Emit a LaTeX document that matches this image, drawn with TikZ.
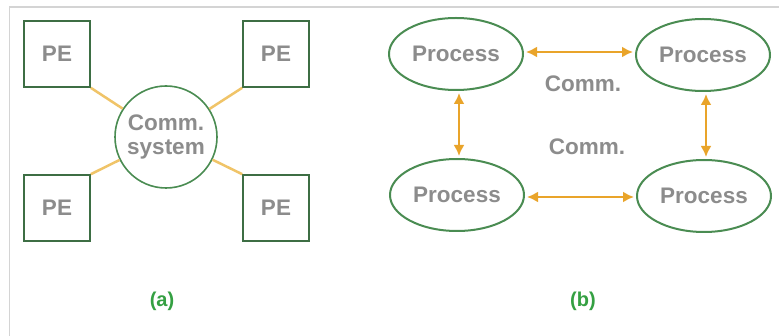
\documentclass[tikz,border=0pt]{standalone}
\usepackage{fontspec}
\setmainfont{Liberation Sans}
\usetikzlibrary{shapes.geometric,arrows.meta}

\definecolor{boxgreen}{HTML}{3D6E44}
\definecolor{ringgreen}{HTML}{4A8C52}
\definecolor{labelgreen}{HTML}{34A042}
\definecolor{txtgray}{HTML}{8C8C8C}
\definecolor{linkorange}{HTML}{F0C468}
\definecolor{arroworange}{HTML}{E9A42A}
\definecolor{framegray}{HTML}{D4D4D4}

\tikzset{
  txt/.style={font=\bfseries\fontsize{22.5}{27}\selectfont, text=txtgray},
  pebox/.style={txt, draw=boxgreen, line width=1.6pt, fill=white,
                minimum width=66pt, minimum height=66pt, inner sep=0pt},
  hub/.style={txt, circle, draw=ringgreen, line width=1.6pt, fill=white,
              minimum size=102pt, inner sep=0pt, align=center},
  proc/.style={txt, ellipse, draw=ringgreen, line width=2pt, fill=white,
               minimum width=134pt, minimum height=72pt, inner sep=0pt},
  link/.style={draw=linkorange, line width=2.5pt},
  comm/.style={draw=arroworange, line width=2.6pt,
               {Latex[length=11pt,width=11pt]}-{Latex[length=11pt,width=11pt]},
               shorten <=2pt, shorten >=2pt},
  caption/.style={font=\bfseries\fontsize{20}{24}\selectfont, text=labelgreen},
  note/.style={txt}
}

\begin{document}
\begin{tikzpicture}[x=1pt, y=-1pt]
  \useasboundingbox (0,0) rectangle (779,336);
  \fill[white] (0,0) rectangle (779,336);

  % thin page frame
  \coordinate (f1) at (9.5,336);
  \coordinate (f2) at (9.5,7);
  \coordinate (f3) at (779,7);
  \draw[framegray, line width=1.2pt] (f1) -- (f2) -- (f3);

  % (a) processing elements around a communication system
  \node[hub] (cs) at (166,137) {Comm.\\[-3pt]system};
  \node[pebox] (pe1) at (57,54) {PE};
  \node[pebox] (pe2) at (276,54) {PE};
  \node[pebox] (pe3) at (57,208) {PE};
  \node[pebox] (pe4) at (276,208) {PE};
  \draw[link] (pe1.south east) -- (cs);
  \draw[link] (pe2.south west) -- (cs);
  \draw[link] (pe3.north east) -- (cs);
  \draw[link] (pe4.north west) -- (cs);
  \node[caption] (capa) at (162,301) {(a)};

  % (b) processes exchanging messages
  \node[proc] (p1) at (456,54) {Process};
  \node[proc] (p2) at (703,55) {Process};
  \node[proc] (p3) at (457,195) {Process};
  \node[proc] (p4) at (704,196) {Process};
  \draw[comm] (p1.east) ++(0,-2) coordinate (a1) -- (a1 -| p2.west);
  \draw[comm] (p3.east) ++(0,2) coordinate (a2) -- (a2 -| p4.west);
  \draw[comm] (p1.south) ++(3,0) coordinate (a3) -- (a3 |- p3.north);
  \draw[comm] (p2.south) ++(3,0) coordinate (a4) -- (a4 |- p4.north);
  \node[note] (c1) at (583,84) {Comm.};
  \node[note] (c2) at (587,147) {Comm.};
  \node[caption] (capb) at (583,301) {(b)};
\end{tikzpicture}
\end{document}
